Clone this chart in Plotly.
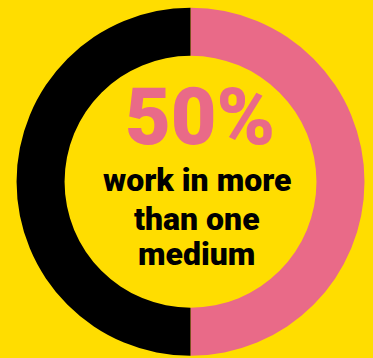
import plotly.graph_objects as go

labels = ["work in more than one medium", "other"]
values = [50, 50]
colors = ["#E96A88", "#000000"]
big_text = "50%"
caption_lines = ["work in more", "than one", "medium"]

W, H = 373, 358
bg = "#FFDD00"

fig = go.Figure()
fig.add_trace(go.Pie(
    labels=labels, values=values, sort=False, direction="clockwise", rotation=0,
    hole=0.724, marker=dict(colors=colors, line=dict(width=0)),
    textinfo="none", hoverinfo="skip", showlegend=False,
    domain=dict(x=[16.5 / W, 364.5 / W], y=[1 - 356 / H, 1 - 7.5 / H]),
))

def py(px):
    return 1 - px / H

fig.add_annotation(text=big_text, x=199.5 / W, y=py(117), xref="paper", yref="paper",
                   xanchor="center", yanchor="middle", showarrow=False,
                   font=dict(family="Roboto", size=79, color=colors[0], weight=900))
ys = [180, 219, 254]
for line, yy in zip(caption_lines, ys):
    fig.add_annotation(text=line, x=196.5 / W, y=py(yy), xref="paper", yref="paper",
                       xanchor="center", yanchor="middle", showarrow=False,
                       font=dict(family="Roboto", size=32, color="#000000", weight=900))

fig.update_layout(width=W, height=H, margin=dict(l=0, r=0, t=0, b=0),
                  paper_bgcolor=bg, plot_bgcolor=bg)
fig.write_html("out.html")
